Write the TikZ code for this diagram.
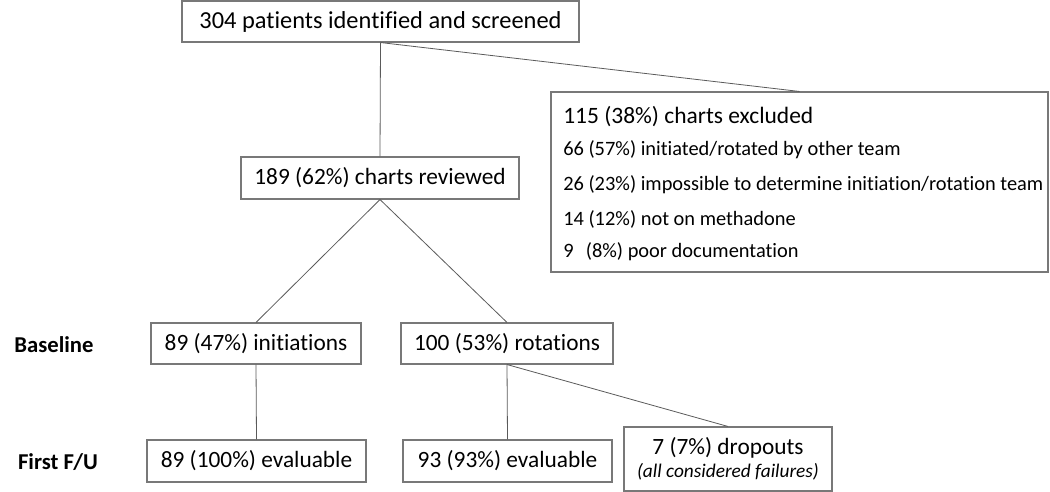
\documentclass[tikz,border=0pt]{standalone}
\usepackage{fontspec}
\setmainfont{Carlito}[Ligatures=NoCommon]
\definecolor{boxgray}{RGB}{120,120,120}
\definecolor{linegray}{RGB}{90,90,90}
\begin{document}
\begin{tikzpicture}[x=0.75pt,y=-0.75pt,
  fbox/.style 2 args={draw=boxgray,line width=0.8pt,inner sep=0pt,
    minimum width=#1*0.75pt,minimum height=#2*0.75pt,
    font=\fontsize{17.5}{20}\selectfont,align=center},
  conn/.style={draw=linegray,line width=0.6pt},
  stage/.style={font=\fontsize{17}{20}\selectfont\bfseries},
  item/.style={anchor=west,inner sep=0pt,font=\fontsize{15.3}{18}\selectfont}]
\useasboundingbox (0,0) rectangle (1050,492);
\node[fbox={397}{41},font=\fontsize{18.3}{21}\selectfont] (top) at (380.5,21.5) {304 patients identified and screened};
\node[fbox={497}{180}] (excl) at (799.5,182) {};
\node[item,font=\fontsize{17.6}{20}\selectfont] (e0) at (563,117) {115 (38\%) charts excluded};
\node[item] (e1) at (563,150) {66 (57\%) initiated/rotated by other team};
\node[item] (e2) at (563,184.5) {26 (23\%) impossible to determine initiation/rotation team};
\node[item] (e3) at (563,219) {14 (12\%) not on methadone};
\node[item] (e4) at (563,251.5) {9\hspace{0.6em}(8\%) poor documentation};
\node[fbox={278}{42}] (rev) at (380,178) {189 (62\%) charts reviewed};
\node[fbox={210}{41}] (init) at (256,343.5) {89 (47\%) initiations};
\node[fbox={212}{41}] (rot) at (507,343.5) {100 (53\%) rotations};
\node[fbox={219}{42}] (ev1) at (256.5,461) {89 (100\%) evaluable};
\node[fbox={209}{42}] (ev2) at (507.5,461) {93 (93\%) evaluable};
\node[fbox={208}{64}] (drop) at (728,459) {7 (7\%) dropouts\\[-3pt]{\fontsize{14.5}{16}\selectfont\itshape (all considered failures)}};
\node[stage] (base) at (54,345) {Baseline};
\node[stage] (fu) at (58,462) {First F/U};
\draw[conn] (top.south) -- (rev.north);
\draw[conn] (top.south) -- (excl.north);
\draw[conn] (rev.south) -- (init.north);
\draw[conn] (rev.south) -- (rot.north);
\draw[conn] (init.south) -- (ev1.north);
\draw[conn] (rot.south) -- (ev2.north);
\draw[conn] (rot.south) -- (drop.north);
\end{tikzpicture}
\end{document}
